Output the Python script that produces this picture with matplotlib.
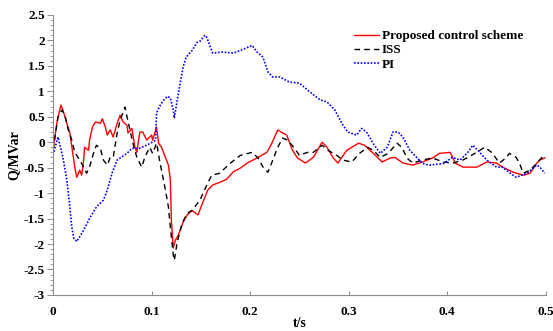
import numpy as np
import matplotlib.pyplot as plt
from matplotlib.ticker import MultipleLocator

# time (s) and reactive power Q (MVar) for each controller
t_prop = [0, 0.004, 0.008, 0.010, 0.014, 0.017, 0.020, 0.022, 0.024, 0.027, 0.029,
          0.031, 0.032, 0.036, 0.037, 0.040, 0.043, 0.048, 0.050, 0.053, 0.055,
          0.058, 0.061, 0.065, 0.068, 0.071, 0.075, 0.076, 0.080, 0.083, 0.085,
          0.088, 0.091, 0.095, 0.100, 0.101, 0.105, 0.107, 0.110, 0.114, 0.117,
          0.119, 0.120, 0.122, 0.124, 0.127, 0.132, 0.136, 0.141, 0.147, 0.152,
          0.157, 0.162, 0.169, 0.176, 0.183, 0.190, 0.197, 0.207, 0.217, 0.222,
          0.228, 0.233, 0.237, 0.243, 0.248, 0.256, 0.264, 0.273, 0.278, 0.284,
          0.289, 0.298, 0.310, 0.316, 0.325, 0.334, 0.342, 0.347, 0.355, 0.365,
          0.375, 0.385, 0.392, 0.403, 0.408, 0.416, 0.430, 0.440, 0.450, 0.456,
          0.467, 0.477, 0.484, 0.491, 0.494, 0.499]
q_prop = [-0.15, 0.40, 0.73, 0.63, 0.37, 0.18, -0.22, -0.49, -0.69, -0.55, -0.65,
          -0.35, -0.10, -0.16, 0.04, 0.30, 0.40, 0.37, 0.46, 0.30, 0.14,
          0.24, 0.10, 0.37, 0.53, 0.40, 0.33, 0.18, 0.27, -0.10, -0.20,
          0.20, 0.20, 0.04, 0.14, 0.04, 0.30, -0.02, -0.10, -0.30, -0.45,
          -0.75, -1.53, -2.08, -1.93, -1.83, -1.57, -1.43, -1.34, -1.43, -1.18,
          -0.94, -0.84, -0.79, -0.73, -0.58, -0.51, -0.41, -0.31, -0.20, -0.02,
          0.24, 0.18, 0.14, -0.16, -0.31, -0.41, -0.30, 0.00, -0.10, -0.30,
          -0.41, -0.16, -0.02, -0.06, -0.22, -0.39, -0.31, -0.30, -0.41, -0.45,
          -0.39, -0.31, -0.22, -0.20, -0.41, -0.49, -0.49, -0.39, -0.41, -0.49,
          -0.59, -0.65, -0.61, -0.41, -0.35, -0.31]

t_iss = [0, 0.005, 0.009, 0.012, 0.015, 0.019, 0.022, 0.027, 0.031, 0.034, 0.037,
         0.041, 0.044, 0.048, 0.051, 0.055, 0.058, 0.061, 0.065, 0.068, 0.073,
         0.075, 0.078, 0.081, 0.085, 0.090, 0.093, 0.098, 0.101, 0.105, 0.108,
         0.114, 0.117, 0.119, 0.122, 0.123, 0.126, 0.131, 0.136, 0.141, 0.149,
         0.156, 0.161, 0.169, 0.180, 0.190, 0.202, 0.208, 0.213, 0.218, 0.223,
         0.228, 0.233, 0.238, 0.245, 0.250, 0.258, 0.264, 0.273, 0.279, 0.288,
         0.294, 0.303, 0.311, 0.319, 0.325, 0.332, 0.340, 0.349, 0.354, 0.359,
         0.365, 0.375, 0.385, 0.396, 0.406, 0.416, 0.428, 0.438, 0.445, 0.453,
         0.460, 0.463, 0.470, 0.474, 0.477, 0.484, 0.491, 0.496, 0.499]
q_iss = [-0.15, 0.50, 0.63, 0.53, 0.27, 0.04, -0.20, -0.35, -0.49, -0.61, -0.49,
         -0.22, -0.06, -0.12, -0.35, -0.45, -0.30, -0.30, 0.18, 0.43, 0.69,
         0.50, 0.24, -0.02, -0.30, -0.49, -0.30, -0.10, -0.22, -0.02, -0.35,
         -0.94, -1.27, -1.67, -2.22, -2.32, -1.96, -1.59, -1.40, -1.34, -1.14,
         -0.84, -0.65, -0.61, -0.41, -0.26, -0.20, -0.31, -0.49, -0.59, -0.35,
         -0.10, 0.08, 0.04, -0.12, -0.26, -0.20, -0.20, -0.06, -0.16, -0.26,
         -0.35, -0.39, -0.22, -0.10, -0.16, -0.30, -0.22, -0.02, -0.10, -0.31,
         -0.41, -0.35, -0.31, -0.39, -0.41, -0.35, -0.22, -0.10, -0.20, -0.41,
         -0.30, -0.22, -0.30, -0.45, -0.61, -0.55, -0.41, -0.30, -0.35]

t_pi = [0, 0.005, 0.010, 0.014, 0.017, 0.019, 0.021, 0.024, 0.031, 0.037, 0.044,
        0.051, 0.055, 0.060, 0.065, 0.075, 0.080, 0.088, 0.098, 0.104, 0.105,
        0.108, 0.112, 0.116, 0.119, 0.122, 0.123, 0.126, 0.129, 0.132, 0.135,
        0.141, 0.146, 0.149, 0.154, 0.156, 0.159, 0.162, 0.172, 0.183, 0.190,
        0.202, 0.207, 0.213, 0.218, 0.223, 0.230, 0.240, 0.250, 0.261, 0.271,
        0.278, 0.286, 0.293, 0.299, 0.308, 0.313, 0.318, 0.325, 0.332, 0.339,
        0.345, 0.350, 0.355, 0.362, 0.369, 0.375, 0.382, 0.396, 0.405, 0.413,
        0.420, 0.426, 0.431, 0.440, 0.450, 0.456, 0.464, 0.470, 0.481, 0.491,
        0.494, 0.499]
q_pi = [-0.25, 0.10, -0.30, -0.75, -1.27, -1.67, -1.89, -1.95, -1.73, -1.50, -1.27,
        -1.14, -0.94, -0.60, -0.35, -0.22, -0.12, -0.12, -0.03, 0.04, 0.57,
        0.70, 0.82, 0.90, 0.87, 0.63, 0.47, 0.83, 1.16, 1.48, 1.67,
        1.80, 1.96, 1.98, 2.10, 2.06, 1.90, 1.75, 1.77, 1.75, 1.80,
        1.90, 1.77, 1.67, 1.38, 1.28, 1.28, 1.18, 1.16, 0.98, 0.83,
        0.79, 0.63, 0.37, 0.20, 0.14, 0.27, 0.20, -0.03, -0.22, -0.10,
        0.20, 0.20, 0.10, -0.16, -0.30, -0.42, -0.45, -0.42, -0.30, -0.35,
        -0.22, -0.06, -0.16, -0.35, -0.49, -0.49, -0.61, -0.69, -0.61, -0.45,
        -0.49, -0.61]

plt.rcParams['font.family'] = ['Liberation Serif', 'DejaVu Serif']
plt.rcParams['font.weight'] = 'bold'

fig = plt.figure(figsize=(5.53, 3.31), dpi=100)
ax = fig.add_axes([0.096, 0.109, 0.891, 0.846])

ax.plot(t_prop, q_prop, color='red', lw=1.0, label='Proposed control scheme')
ax.plot(t_iss, q_iss, color='black', lw=1.0, ls=(0, (4, 3)), label='ISS')
ax.plot(t_pi, q_pi, color='blue', lw=1.2, ls=(0, (1, 1)), label='PI')

ax.set_xlim(0, 0.5)
ax.set_ylim(-3, 2.5)
ax.yaxis.set_minor_locator(MultipleLocator(0.1))
ax.set_xticks([0, 0.1, 0.2, 0.3, 0.4, 0.5])
ax.set_xticklabels(['0', '0.1', '0.2', '0.3', '0.4', '0.5'])
ax.set_yticks(np.arange(-3, 2.51, 0.5))
ax.set_yticklabels(['-3', '-2.5', '-2', '-1.5', '-1', '-0.5', '0',
                    '0.5', '1', '1.5', '2', '2.5'])

for side in ('top', 'right'):
    ax.spines[side].set_visible(False)
for side in ('left', 'bottom'):
    ax.spines[side].set_color('#8c8c8c')
    ax.spines[side].set_linewidth(0.8)

ax.tick_params(axis='y', which='major', direction='out', length=4, width=0.7,
               color='#8c8c8c', labelsize=9.5, pad=2)
ax.tick_params(axis='y', which='minor', direction='out', length=2, width=0.6,
               color='#8c8c8c')
ax.tick_params(axis='x', which='major', direction='in', length=3, width=0.7,
               color='#8c8c8c', labelsize=9.5, pad=8)

ax.set_xlabel('t/s', fontsize=10, fontweight='bold', labelpad=-1)
ax.set_ylabel('Q/MVar', fontsize=10, fontweight='bold', labelpad=2)

ax.legend(loc='upper left', bbox_to_anchor=(0.6, 0.965), frameon=False,
          fontsize=9.5, handlelength=1.9, handletextpad=0.2, labelspacing=0.15,
          borderaxespad=0)

fig.savefig('out.png', dpi=100)
